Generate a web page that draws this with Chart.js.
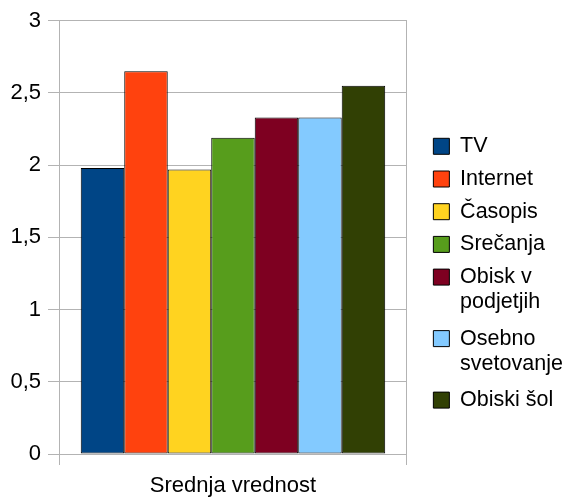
<!DOCTYPE html>
<html><head><meta charset="utf-8">
<script src="https://cdn.jsdelivr.net/npm/chart.js@4"></script>
<style>html,body{margin:0;padding:0;background:#fff;}</style>
</head><body>
<canvas id="c" width="562" height="497"></canvas>
<script>
const categories = ['Srednja vrednost'];
const seriesNames = ['TV', 'Internet', 'Časopis', 'Srečanja', 'Obisk v podjetjih', 'Osebno svetovanje', 'Obiski šol'];
const legendLines = [['TV'], ['Internet'], ['Časopis'], ['Srečanja'], ['Obisk v', 'podjetjih'], ['Osebno', 'svetovanje'], ['Obiski šol']];
const seriesValues = [1.98, 2.65, 1.97, 2.19, 2.33, 2.33, 2.55];
const yTickValues = [0, 0.5, 1, 1.5, 2, 2.5, 3];

const seriesColors = ['#004586', '#ff420e', '#ffd320', '#579d1c', '#7e0021', '#83caff', '#314004'];
const FONT = 'Liberation Sans';
const GRID = '#b3b3b3';

const datasets = seriesNames.map((name, i) => ({
  label: name,
  data: [seriesValues[i]],
  backgroundColor: seriesColors[i],
  borderColor: '#000000',
  borderWidth: 1,
  borderSkipped: false,
  categoryPercentage: 0.875,
  barPercentage: 1.0
}));

new Chart(document.getElementById('c'), {
  type: 'bar',
  data: { labels: categories, datasets },
  options: {
    responsive: false,
    animation: false,
    devicePixelRatio: 1,
    layout: { padding: { left: 0, top: 20.7, right: -10.9, bottom: 0 } },
    plugins: {
      tooltip: { enabled: false },
      legend: {
        position: 'right',
        align: 'start',
        maxWidth: 200,
        title: { display: true, text: ' ', font: { size: 12, lineHeight: 1.2 }, padding: { top: 89.25, bottom: 0 } },
        labels: {
          boxWidth: 16,
          boxHeight: 16,
          padding: 11.2,
          color: '#000',
          font: { family: FONT, size: 21.5, lineHeight: 1.17 },
          generateLabels: (chart) => chart.data.datasets.map((ds, i) => ({
            text: legendLines[i].length > 1 ? legendLines[i] : legendLines[i][0],
            fillStyle: ds.backgroundColor,
            strokeStyle: '#000000',
            fontColor: '#000000',
            lineWidth: 1,
            hidden: false,
            datasetIndex: i
          }))
        }
      }
    },
    scales: {
      x: {
        offset: true,
        grid: { color: GRID, offset: true, tickLength: 11 },
        border: { color: GRID },
        ticks: { color: '#000', font: { family: FONT, size: 22 }, padding: 8 },
        afterFit: (s) => { s.height = 43; }
      },
      y: {
        min: 0,
        max: 3,
        afterBuildTicks: (scale) => { scale.ticks = yTickValues.map(v => ({ value: v })); },
        grid: { color: GRID, tickLength: 11 },
        border: { color: GRID },
        ticks: {
          color: '#000',
          font: { family: FONT, size: 22 },
          padding: 7,
          callback: (v) => String(v).replace('.', ',')
        },
        afterFit: (s) => { s.width = 59; }
      },
      gap: {
        position: 'right',
        display: true,
        grid: { display: false },
        border: { display: false },
        ticks: { display: false },
        afterFit: (s) => { s.width = 15.2; }
      }
    }
  }
});
</script>
</body></html>
